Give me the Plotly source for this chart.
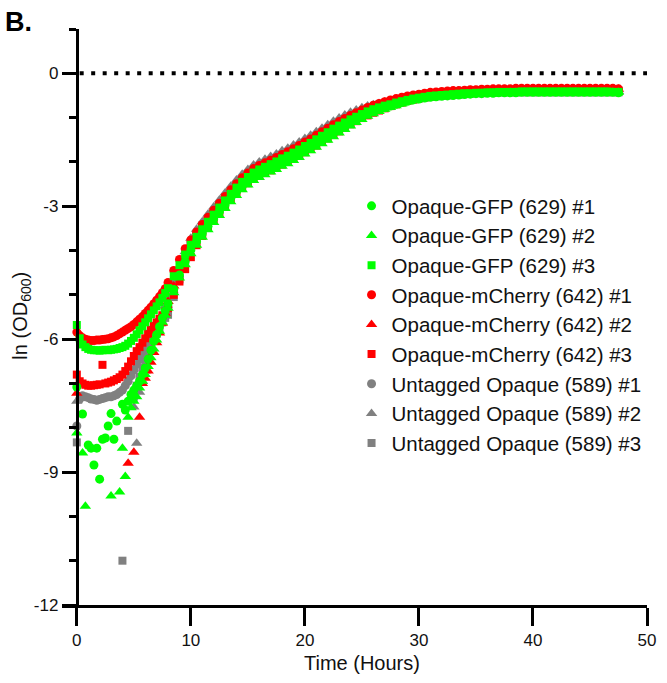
import plotly.graph_objects as go

# ---------------- data ----------------
TIME_EARLY = [0.0, 0.25, 0.5, 0.75, 1.0, 1.25, 1.5, 1.75, 2.0, 2.25, 2.5, 2.75,
              3.0, 3.25, 3.5, 3.75, 4.0, 4.25, 4.5, 4.75, 5.0, 5.25, 5.5, 5.75,
              6.0, 6.25, 6.5, 6.75, 7.0, 7.25, 7.5, 7.75]
TIME_LATE = [8.0 + 0.5 * i for i in range(80)]  # sampling grid 8 .. 47.5 h
TIME_H = TIME_EARLY + TIME_LATE

N = None

gfp1_early = [-7.08, N, -7.69, N, -8.39, -8.46, -8.84, -8.46, -9.16, -8.26, -8.23, -7.96,
              -7.68, -8.26, -7.85, N, -7.47, -7.60, -7.40, -7.25, -7.15, -7.05, -6.95, -6.80,
              -6.65, -6.45, -6.25, -6.05, -5.90, -5.72, -5.52, -5.36]
gfp1_late = [-5.20, -4.88, -4.55, -4.25, -3.99, -3.80, -3.62, -3.45, -3.29, -3.13,
             -2.97, -2.82, -2.68, -2.55, -2.44, -2.34, -2.27, -2.21, -2.15, -2.09,
             -2.02, -1.96, -1.89, -1.82, -1.74, -1.67, -1.59, -1.51, -1.43, -1.35,
             -1.28, -1.20, -1.12, -1.05, -0.98, -0.92, -0.87, -0.82, -0.78, -0.74,
             -0.70, -0.66, -0.63, -0.60, -0.58, -0.56, -0.54, -0.53, -0.52, -0.51,
             -0.50, -0.49, -0.48, -0.47, -0.46, -0.46, -0.45, -0.45, -0.44, -0.44,
             -0.44, -0.44, -0.43, -0.43, -0.43, -0.43, -0.43, -0.43, -0.43, -0.43,
             -0.43, -0.43, -0.43, -0.43, -0.43, -0.43, -0.43, -0.43, -0.43, -0.44]

gfp2_early = [-8.12, N, -8.57, -9.77, N, N, N, N, N, N, N, N,
              -9.54, N, N, -9.45, -8.46, -9.10, -7.76, -7.55, -7.40, -7.30, -7.10, -6.95,
              -6.80, -6.62, -6.42, -6.22, -6.02, -5.82, -5.62, -5.46]
gfp2_late = [-5.30, -4.95, -4.62, -4.32, -4.07, -3.88, -3.70, -3.53, -3.37, -3.21,
             -3.05, -2.90, -2.76, -2.63, -2.52, -2.42, -2.35, -2.29, -2.23, -2.17,
             -2.10, -2.04, -1.97, -1.90, -1.82, -1.75, -1.67, -1.59, -1.51, -1.43,
             -1.35, -1.27, -1.19, -1.11, -1.04, -0.97, -0.91, -0.86, -0.81, -0.77,
             -0.73, -0.69, -0.65, -0.62, -0.59, -0.57, -0.55, -0.53, -0.52, -0.51,
             -0.50, -0.49, -0.48, -0.47, -0.46, -0.45, -0.45, -0.44, -0.44, -0.44,
             -0.43, -0.43, -0.43, -0.43, -0.43, -0.43, -0.43, -0.43, -0.43, -0.43,
             -0.43, -0.43, -0.43, -0.43, -0.43, -0.43, -0.43, -0.43, -0.43, -0.43]

gfp3_early = [-5.68, -5.98, -6.12, -6.18, -6.22, -6.24, -6.25, -6.25, -6.26, -6.25, -6.24, -6.25,
              -6.24, -6.23, -6.22, -6.20, -6.18, -6.15, -6.10, -6.04, -5.97, -5.89, -5.80, -5.71,
              -5.62, -5.53, -5.44, -5.35, -5.26, -5.17, -5.07, -4.96]
gfp3_late = [-4.85, -4.58, -4.33, -4.09, -3.87, -3.69, -3.52, -3.35, -3.19, -3.03,
             -2.87, -2.72, -2.58, -2.45, -2.34, -2.24, -2.17, -2.11, -2.05, -1.99,
             -1.92, -1.86, -1.79, -1.72, -1.64, -1.57, -1.49, -1.41, -1.33, -1.25,
             -1.18, -1.11, -1.04, -0.98, -0.92, -0.86, -0.81, -0.77, -0.73, -0.70,
             -0.66, -0.63, -0.60, -0.57, -0.55, -0.53, -0.51, -0.50, -0.49, -0.48,
             -0.47, -0.46, -0.45, -0.45, -0.44, -0.44, -0.43, -0.43, -0.42, -0.42,
             -0.42, -0.42, -0.41, -0.41, -0.41, -0.41, -0.41, -0.41, -0.41, -0.41,
             -0.41, -0.41, -0.41, -0.41, -0.41, -0.41, -0.41, -0.41, -0.42, -0.42]

mch1_early = [-5.84, -5.92, -5.97, -6.00, -6.02, -6.03, -6.03, -6.02, -6.02, -6.01, -6.00, -5.99,
              -5.97, -5.95, -5.92, -5.88, -5.84, -5.80, -5.76, -5.72, -5.67, -5.61, -5.55, -5.49,
              -5.42, -5.35, -5.28, -5.20, -5.12, -5.04, -4.95, -4.86]
mch1_late = [-4.72, -4.45, -4.20, -3.96, -3.76, -3.58, -3.41, -3.25, -3.09, -2.93,
             -2.78, -2.63, -2.49, -2.36, -2.25, -2.15, -2.08, -2.02, -1.96, -1.90,
             -1.83, -1.77, -1.70, -1.63, -1.55, -1.48, -1.40, -1.32, -1.24, -1.16,
             -1.09, -1.02, -0.95, -0.89, -0.83, -0.77, -0.72, -0.68, -0.64, -0.60,
             -0.57, -0.54, -0.51, -0.49, -0.47, -0.45, -0.43, -0.42, -0.41, -0.40,
             -0.39, -0.39, -0.38, -0.37, -0.37, -0.36, -0.36, -0.35, -0.35, -0.35,
             -0.35, -0.34, -0.34, -0.34, -0.34, -0.34, -0.34, -0.34, -0.34, -0.34,
             -0.34, -0.34, -0.34, -0.34, -0.34, -0.34, -0.34, -0.34, -0.34, -0.35]

mch2_early = [-7.22, N, N, N, N, N, N, N, N, N, N, N,
              N, N, N, N, N, N, -8.80, N, -8.55, N, -7.76, -7.00,
              -6.88, -6.72, -6.52, -6.30, -6.08, -5.86, -5.64, -5.42]
mch2_late = [-5.15, -4.80, -4.45, -4.12, -3.85, -3.65, -3.48, -3.31, -3.15, -2.99,
             -2.83, -2.68, -2.54, -2.41, -2.30, -2.20, -2.13, -2.07, -2.01, -1.95,
             -1.88, -1.82, -1.75, -1.68, -1.60, -1.53, -1.45, -1.37, -1.29, -1.21,
             -1.14, -1.06, -0.99, -0.92, -0.86, -0.80, -0.75, -0.70, -0.66, -0.63,
             -0.61, -0.58, -0.55, -0.52, -0.50, -0.48, -0.46, -0.45, -0.44, -0.43,
             -0.42, -0.41, -0.40, -0.39, -0.39, -0.38, -0.38, -0.37, -0.37, -0.37,
             -0.37, -0.36, -0.36, -0.36, -0.36, -0.36, -0.36, -0.36, -0.36, -0.36,
             -0.36, -0.36, -0.36, -0.36, -0.36, -0.36, -0.36, -0.36, -0.36, -0.36]

mch3_early = [-6.80, -6.95, -7.00, -7.03, -7.05, -7.05, -7.04, -7.03, -7.02, -6.58, -7.00, -6.98,
              -6.96, -6.93, -6.90, -6.86, -6.80, -6.72, -6.62, -6.50, -6.38, -6.27, -6.18, -6.08,
              -5.98, -5.88, -5.79, -5.70, -5.62, -5.54, -5.46, -5.38]
mch3_late = [-5.30, -5.00, -4.70, -4.42, -4.15, -3.88, -3.67, -3.49, -3.33, -3.17,
             -3.01, -2.86, -2.72, -2.59, -2.48, -2.38, -2.31, -2.25, -2.19, -2.13,
             -2.06, -2.00, -1.93, -1.86, -1.78, -1.71, -1.63, -1.55, -1.47, -1.39,
             -1.31, -1.23, -1.15, -1.08, -1.01, -0.95, -0.89, -0.84, -0.79, -0.74,
             -0.70, -0.66, -0.62, -0.59, -0.56, -0.54, -0.52, -0.50, -0.48, -0.47,
             -0.46, -0.45, -0.44, -0.43, -0.42, -0.42, -0.41, -0.41, -0.40, -0.40,
             -0.40, -0.40, -0.39, -0.39, -0.39, -0.39, -0.39, -0.39, -0.39, -0.39,
             -0.39, -0.39, -0.39, -0.39, -0.39, -0.39, -0.39, -0.39, -0.39, -0.39]

unt1_early = [-7.96, -7.35, -7.28, -7.30, -7.32, -7.35, -7.36, -7.38, -7.36, -7.34, -7.32, -7.30,
              -7.30, -7.28, -7.25, -7.20, -7.15, -7.05, -6.95, -6.83, -6.70, -6.57, -6.45, -6.33,
              -6.20, -6.08, -5.96, -5.84, -5.72, -5.60, -5.48, -5.40]
unt1_late = [-5.28, -4.95, -4.58, -4.20, -3.82, -3.62, -3.45, -3.28, -3.12, -2.96,
             -2.80, -2.65, -2.51, -2.38, -2.27, -2.17, -2.10, -2.04, -1.98, -1.92,
             -1.85, -1.79, -1.72, -1.65, -1.57, -1.50, -1.42, -1.34, -1.26, -1.18,
             -1.11, -1.04, -0.97, -0.91, -0.85, -0.80, -0.76, -0.72, -0.69, -0.66,
             -0.63, -0.61, -0.59, -0.57, -0.55, -0.53, -0.52, -0.51, -0.50, -0.49,
             -0.48, -0.47, -0.46, -0.45, -0.44, -0.44, -0.43, -0.43, -0.42, -0.42,
             -0.42, -0.42, -0.41, -0.41, -0.41, -0.41, -0.41, -0.41, -0.41, -0.41,
             -0.41, -0.41, -0.41, -0.41, -0.41, -0.41, -0.41, -0.41, -0.41, -0.41]

unt2_early = [-7.40, N, N, N, N, N, N, N, N, N, N, N,
              N, N, N, N, N, N, N, N, -7.53, -8.35, -7.20, -6.95,
              -6.72, -6.50, -6.28, -6.06, -5.85, -5.65, -5.45, -5.25]
unt2_late = [-5.05, -4.72, -4.38, -4.03, -3.72, -3.52, -3.35, -3.18, -3.02, -2.86,
             -2.70, -2.55, -2.41, -2.28, -2.17, -2.07, -2.00, -1.94, -1.88, -1.82,
             -1.75, -1.69, -1.62, -1.55, -1.47, -1.40, -1.32, -1.24, -1.16, -1.08,
             -1.01, -0.94, -0.88, -0.83, -0.78, -0.74, -0.71, -0.68, -0.65, -0.62,
             -0.60, -0.58, -0.56, -0.54, -0.52, -0.51, -0.50, -0.49, -0.48, -0.47,
             -0.46, -0.45, -0.44, -0.44, -0.43, -0.43, -0.42, -0.42, -0.42, -0.41,
             -0.41, -0.41, -0.41, -0.41, -0.41, -0.41, -0.41, -0.41, -0.41, -0.41,
             -0.41, -0.41, -0.41, -0.41, -0.41, -0.41, -0.41, -0.41, -0.41, -0.41]

unt3_early = [-8.33, N, N, N, N, N, N, N, N, N, N, N,
              N, N, N, N, -11.00, N, -8.07, N, -7.30, -7.05, -6.85, -6.65,
              -6.48, -6.32, -6.17, -6.02, -5.88, -5.75, -5.62, -5.52]
unt3_late = [-5.45, -5.05, -4.65, -4.28, -3.92, -3.72, -3.55, -3.38, -3.22, -3.06,
             -2.90, -2.75, -2.61, -2.48, -2.37, -2.27, -2.20, -2.14, -2.08, -2.02,
             -1.95, -1.89, -1.82, -1.75, -1.67, -1.60, -1.52, -1.44, -1.36, -1.28,
             -1.21, -1.13, -1.05, -0.98, -0.91, -0.85, -0.80, -0.76, -0.72, -0.69,
             -0.67, -0.64, -0.61, -0.59, -0.57, -0.55, -0.53, -0.52, -0.51, -0.50,
             -0.49, -0.48, -0.47, -0.46, -0.45, -0.45, -0.44, -0.44, -0.43, -0.43,
             -0.43, -0.43, -0.43, -0.43, -0.43, -0.43, -0.43, -0.43, -0.43, -0.43,
             -0.43, -0.43, -0.43, -0.43, -0.43, -0.43, -0.43, -0.43, -0.43, -0.43]

SERIES_NAMES = ["Opaque-GFP (629) #1", "Opaque-GFP (629) #2", "Opaque-GFP (629) #3",
                "Opaque-mCherry (642) #1", "Opaque-mCherry (642) #2", "Opaque-mCherry (642) #3",
                "Untagged Opaque (589) #1", "Untagged Opaque (589) #2", "Untagged Opaque (589) #3"]
SERIES_VALUES = [gfp1_early + gfp1_late, gfp2_early + gfp2_late, gfp3_early + gfp3_late,
                 mch1_early + mch1_late, mch2_early + mch2_late, mch3_early + mch3_late,
                 unt1_early + unt1_late, unt2_early + unt2_late, unt3_early + unt3_late]

X_TICKS = [0, 10, 20, 30, 40, 50]
Y_TICKS = [0, -3, -6, -9, -12]

# ---------------- styles ----------------
COLORS = ["#00FF00"] * 3 + ["#FF0000"] * 3 + ["#808080"] * 3
SYMBOLS = ["circle", "triangle-up", "square"] * 3
SIZES = {"circle": 9, "triangle-up": 10, "square": 8}
FONT = "Arial, 'Liberation Sans', sans-serif"

for v in SERIES_VALUES:
    if len(v) != len(TIME_H):
        raise ValueError("length mismatch %d vs %d" % (len(v), len(TIME_H)))

fig = go.Figure()
# draw untagged first, then mCherry, then GFP so that green lies on top
for i in reversed(range(9)):
    fig.add_trace(go.Scatter(
        x=TIME_H, y=SERIES_VALUES[i], mode="markers", name=SERIES_NAMES[i],
        marker=dict(color=COLORS[i], symbol=SYMBOLS[i], size=SIZES[SYMBOLS[i]],
                    line=dict(width=0)),
        cliponaxis=False,
    ))

# plot geometry (pixels)
W, H = 667, 683
L, R, T, B = 62, 11, 29, 78
XMIN, XMAX = -1.3, 50
plot_w = W - L - R
plot_h = H - T - B
def px_to_paper_x(px):
    return (px - L) / plot_w
def px_to_paper_y(py):
    return (H - B - py) / plot_h

yaxis_pos = (0 - XMIN) / (XMAX - XMIN)

fig.update_layout(
    width=W, height=H,
    margin=dict(l=L, r=R, t=T, b=B, pad=0),
    paper_bgcolor="white", plot_bgcolor="white",
    font=dict(family=FONT, color="black", size=17),
    showlegend=True,
    legend=dict(
        x=px_to_paper_x(356), y=px_to_paper_y(186), xanchor="left", yanchor="top",
        traceorder="reversed", font=dict(size=20.5, family=FONT, color="#111111"),
        bgcolor="rgba(0,0,0,0)", borderwidth=0, itemclick=False,
    ),
    xaxis=dict(
        range=[XMIN, XMAX], tickvals=X_TICKS, ticktext=[str(t) for t in X_TICKS],
        showgrid=False, zeroline=False, showline=True, linecolor="black", linewidth=3,
        ticks="outside", ticklen=18, tickwidth=3, tickcolor="black",
        tickfont=dict(size=17, family=FONT, color="#111111"),
    ),
    yaxis=dict(
        range=[-12, 1], tickvals=Y_TICKS, ticktext=[str(t) for t in Y_TICKS],
        anchor="free", position=yaxis_pos,
        showgrid=False, zeroline=False, showline=True, linecolor="black", linewidth=3,
        ticks="outside", ticklen=14, tickwidth=3, tickcolor="black",
        minor=dict(dtick=1, tick0=0, ticks="outside", ticklen=7, tickwidth=3,
                   tickcolor="black", showgrid=False),
        tickfont=dict(size=17, family=FONT, color="#111111"),
    ),
)

# dotted reference line at ln(OD) = 0
fig.add_shape(type="line", xref="x", yref="y", x0=0.25, x1=50, y0=0, y1=0,
              line=dict(color="black", width=4, dash="4px,7.5px"), layer="below")

# axis titles and panel label
fig.add_annotation(text="Time (Hours)", xref="x", yref="paper", x=25,
                   y=px_to_paper_y(663), xanchor="center", yanchor="middle",
                   showarrow=False, font=dict(size=20, family=FONT, color="#111111"))
fig.add_annotation(text="ln (OD<sub>600</sub>)", xref="paper", yref="paper",
                   x=px_to_paper_x(20), y=px_to_paper_y(316), textangle=-90,
                   xanchor="center", yanchor="middle", showarrow=False,
                   font=dict(size=20, family=FONT, color="#111111"))
fig.add_annotation(text="<b>B.</b>", xref="paper", yref="paper",
                   x=px_to_paper_x(2), y=px_to_paper_y(22), xanchor="left", yanchor="middle",
                   showarrow=False, font=dict(size=27, family=FONT, color="black"))

fig.write_html("out.html")
